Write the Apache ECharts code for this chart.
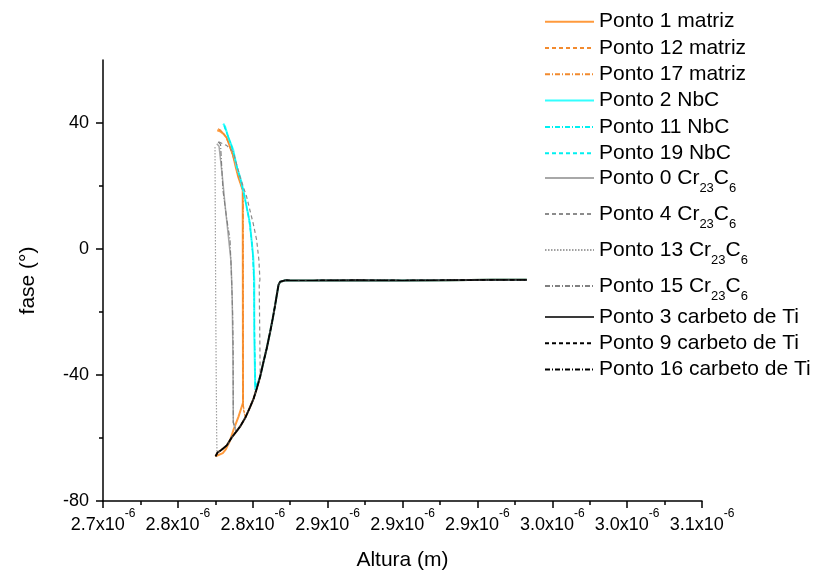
<!DOCTYPE html>
<html>
<head>
<meta charset="utf-8">
<script src="https://cdn.jsdelivr.net/npm/echarts@6/dist/echarts.min.js"></script>
<style>
  html, body { margin: 0; padding: 0; background: #fff; }
  #chart { width: 819px; height: 576px; }
</style>
</head>
<body>
<div id="chart"></div>
<script>
// Altura in nm (axis labels show it as x10^-6 m), fase in degrees.
const xTickLabels = ['2.7', '2.8', '2.8', '2.9', '2.9', '2.9', '3.0', '3.0', '3.1'];
const yMajorTicks = [-80, -40, 0, 40];
const yMinorTicks = [-60, -20, 20];

// Shared retract branch: the curve every point follows back up to the plateau.
const retractBranch = [
  [2775.2, -65.8], [2776.5, -64.6], [2779.0, -63.8], [2782.6, -62.4], [2786.0, -59.8],
  [2789.0, -58.0], [2791.5, -56.4], [2795.0, -53.6], [2798.2, -50.2], [2800.5, -47.6],
  [2802.6, -44.4], [2805.0, -40.4], [2807.0, -36.2], [2809.3, -31.6], [2811.5, -26.6],
  [2813.3, -22.2], [2814.8, -18.2], [2816.2, -14.2], [2817.2, -11.4], [2818.3, -10.4],
  [2819.5, -10.1], [2822.0, -9.9], [2825.0, -10.0], [2840.0, -10.0], [2870.0, -9.9],
  [2900.0, -10.0], [2930.0, -9.9], [2960.0, -9.8], [2983.0, -9.8]
];

// Approach branches (upper part + jump down) of each point.
const ponto1Matriz = [
  [2776.3, 37.7], [2778.1, 37.4], [2780.3, 36.6], [2782.8, 35.2], [2784.8, 32.4],
  [2786.8, 29.8], [2788.1, 27.1], [2790.3, 22.9], [2792.6, 19.7], [2793.3, 18.7],
  [2793.5, -48.8], [2790.5, -53.2], [2787.0, -57.6], [2784.5, -61.2], [2782.0, -63.6],
  [2780.0, -64.8]
];
const ponto12Matriz = [
  [2776.8, 38.2], [2779.0, 37.6], [2781.5, 36.0], [2784.0, 33.6], [2786.5, 30.4],
  [2789.0, 25.8], [2791.5, 21.6], [2793.2, 18.8], [2793.4, -50.0]
];
const ponto17Matriz = [
  [2777.5, 37.9], [2780.0, 37.0], [2782.5, 35.4], [2785.0, 32.0], [2787.5, 28.4],
  [2790.0, 23.6], [2792.4, 20.0], [2793.6, 18.4], [2793.7, -49.6]
];
const ponto2NbC = [
  [2780.3, 39.8], [2781.5, 38.9], [2783.6, 35.6], [2787.0, 31.4], [2789.3, 26.1],
  [2791.5, 22.9], [2793.7, 18.7], [2795.9, 13.4], [2798.1, 8.2], [2800.3, -2.4],
  [2801.0, -9.8], [2801.0, -26.7], [2801.7, -44.7]
];
const ponto11NbC = [
  [2781.0, 39.2], [2783.0, 36.4], [2786.0, 32.6], [2789.0, 27.0], [2792.0, 21.8],
  [2795.0, 15.6], [2798.0, 8.6], [2800.0, -1.6], [2800.8, -12.0], [2801.2, -30.0],
  [2801.8, -45.2]
];
const ponto19NbC = [
  [2780.8, 39.0], [2782.5, 37.0], [2785.5, 33.2], [2788.5, 28.0], [2791.0, 23.4],
  [2794.0, 17.6], [2797.0, 10.8], [2799.5, 2.0], [2800.6, -6.0], [2801.1, -20.0],
  [2801.6, -44.0]
];
const ponto0Cr23C6 = [
  [2776.0, 33.4], [2777.5, 32.6], [2779.5, 24.0], [2781.5, 14.0], [2783.5, 5.0],
  [2785.5, -4.0], [2786.3, -16.0], [2786.8, -35.0], [2787.0, -55.0]
];
const ponto4Cr23C6 = [
  [2777.2, 34.0], [2782.5, 32.9], [2787.0, 30.8], [2791.5, 22.9], [2795.9, 16.6],
  [2800.3, 8.1], [2802.6, 2.9], [2804.1, -3.5], [2804.8, -9.8], [2804.3, -10.9],
  [2804.8, -32.0], [2805.0, -40.4]
];
const ponto13Cr23C6 = [
  [2774.8, 32.4], [2774.9, 20.0], [2775.1, 0.0], [2775.3, -20.0], [2775.6, -40.0],
  [2775.9, -58.0], [2776.1, -64.6]
];
const ponto15Cr23C6 = [
  [2776.9, 34.0], [2778.5, 33.2], [2780.1, 18.7], [2782.5, 10.0], [2784.8, 2.9],
  [2785.9, -9.8], [2786.6, -21.4], [2786.9, -31.2], [2787.0, -55.1]
];
const ponto3Carbeto = [];
const ponto9Carbeto = [];
const ponto16Carbeto = [];

// Each point: approach branch, then the retract branch from where it lands.
function withRetract(approach) {
  if (!approach.length) return retractBranch.slice();
  const landX = approach[approach.length - 1][0];
  let tail = retractBranch.filter(p => p[0] > landX);
  if (approach === ponto1Matriz) tail = retractBranch.slice();
  return approach.concat(tail);
}

const seriesDefs = [
  { name: 'Ponto 1 matriz', data: ponto1Matriz, color: '#FF9A3C', type: 'solid', width: 2 },
  { name: 'Ponto 12 matriz', data: ponto12Matriz, color: '#F28A2E', type: [4, 3], width: 1.2 },
  { name: 'Ponto 17 matriz', data: ponto17Matriz, color: '#F28A2E', type: [5, 2, 1, 2], width: 1.2 },
  { name: 'Ponto 2 NbC', data: ponto2NbC, color: '#33FFFF', type: 'solid', width: 2 },
  { name: 'Ponto 11 NbC', data: ponto11NbC, color: '#00F0F0', type: [5, 2, 1, 2], width: 1.2 },
  { name: 'Ponto 19 NbC', data: ponto19NbC, color: '#00F0F0', type: [4, 3], width: 1.2 },
  { name: 'Ponto 0 Cr23C6', data: ponto0Cr23C6, color: '#A8A8A8', type: 'solid', width: 1.5 },
  { name: 'Ponto 4 Cr23C6', data: ponto4Cr23C6, color: '#8C8C8C', type: [4, 3], width: 1.2 },
  { name: 'Ponto 13 Cr23C6', data: ponto13Cr23C6, color: '#A0A0A0', type: [1.5, 1.5], width: 1.2 },
  { name: 'Ponto 15 Cr23C6', data: ponto15Cr23C6, color: '#808080', type: [5, 2, 1, 2], width: 1.2 },
  { name: 'Ponto 3 carbeto de Ti', data: ponto3Carbeto, color: '#3A3A3A', type: 'solid', width: 2 },
  { name: 'Ponto 9 carbeto de Ti', data: ponto9Carbeto, color: '#000000', type: [4, 3], width: 1.2 },
  { name: 'Ponto 16 carbeto de Ti', data: ponto16Carbeto, color: '#000000', type: [5, 2, 1, 2], width: 1.2 }
];

const FONT = '"Liberation Sans", Arial, sans-serif';

function legendLabel(name) {
  return name.replace('Cr23C6', 'Cr{s|23}C{s|6}');
}

const legendBase = {
  orient: 'vertical',
  left: 544,
  padding: 0,
  itemWidth: 49,
  itemHeight: 14,
  itemStyle: { opacity: 0 },
  textStyle: {
    fontFamily: FONT, fontSize: 21, color: '#000',
    rich: { s: { fontFamily: FONT, fontSize: 13, color: '#000', padding: [20, 0, 0, 0] } }
  },
  formatter: legendLabel,
  selectedMode: false
};

const option = {
  animation: false,
  backgroundColor: '#fff',
  textStyle: { fontFamily: FONT },
  grid: { left: 103, right: 117, top: 60, bottom: 75, containLabel: false },
  legend: [
    Object.assign({}, legendBase, { top: 11.2, itemGap: 5.3, data: seriesDefs.slice(0, 6).map(s => s.name) }),
    Object.assign({}, legendBase, { top: 167.5, itemGap: 9, data: seriesDefs.slice(6, 10).map(s => s.name) }),
    Object.assign({}, legendBase, { top: 306.5, itemGap: 5.2, data: seriesDefs.slice(10).map(s => s.name) })
  ],
  xAxis: {
    type: 'value',
    min: 2700, max: 3100, interval: 50,
    name: 'Altura (m)', nameLocation: 'middle', nameGap: 49,
    nameTextStyle: { fontFamily: FONT, fontSize: 21, color: '#000' },
    axisLine: { onZero: false, lineStyle: { color: '#000', width: 1.5 } },
    axisTick: { length: 7, lineStyle: { color: '#000', width: 1.5 } },
    minorTick: { show: true, splitNumber: 2, length: 4, lineStyle: { color: '#000', width: 1.5 } },
    splitLine: { show: false },
    axisLabel: {
      margin: 7, fontFamily: FONT, fontSize: 18, color: '#000',
      formatter: v => xTickLabels[Math.round((v - 2700) / 50)] + 'x10{sup|-6}',
      rich: { sup: { fontFamily: FONT, fontSize: 12, color: '#000', padding: [0, 0, 22, 0] } }
    }
  },
  yAxis: [
    {
      type: 'value', position: 'left',
      min: -80, max: 60, interval: 20,
      name: 'fase (°)', nameLocation: 'middle', nameGap: 64, nameRotate: 90,
      nameTextStyle: { fontFamily: FONT, fontSize: 21, color: '#000' },
      axisLine: { show: true, onZero: false, lineStyle: { color: '#000', width: 1.5 } },
      axisTick: { show: true, length: 7, customValues: yMajorTicks, lineStyle: { color: '#000', width: 1.5 } },
      splitLine: { show: false },
      axisLabel: { customValues: yMajorTicks, margin: 14, fontFamily: FONT, fontSize: 18, color: '#000' }
    },
    {
      type: 'value', position: 'left',
      min: -80, max: 60, interval: 20,
      axisLine: { show: false, onZero: false },
      axisTick: { show: true, length: 4, customValues: yMinorTicks, lineStyle: { color: '#000', width: 1.5 } },
      splitLine: { show: false },
      axisLabel: { show: false }
    }
  ],
  series: seriesDefs.map(s => ({
    name: s.name,
    type: 'line',
    yAxisIndex: 0,
    symbol: 'none',
    data: withRetract(s.data),
    color: s.color,
    lineStyle: { color: s.color, type: s.type, width: s.width },
    emphasis: { disabled: true }
  }))
};

const chart = echarts.init(document.getElementById('chart'), null, { renderer: 'canvas' });
chart.setOption(option);
</script>
</body>
</html>
